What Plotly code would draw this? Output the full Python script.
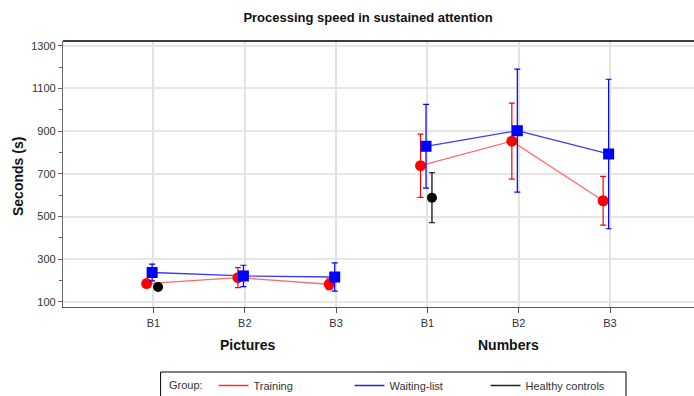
import plotly.graph_objects as go

# ---- data ----
tasks = ["Pictures", "Numbers"]
blocks = ["B1", "B2", "B3"]
tick_labels = ["B1", "B2", "B3", "B1", "B2", "B3"]

training_pictures = [186, 214, 183]
training_pictures_err = [14, 47, 25]
training_numbers = [738, 853, 574]
training_numbers_err = [148, 178, 114]

waiting_pictures = [238, 222, 217]
waiting_pictures_err = [39, 50, 66]
waiting_numbers = [829, 902, 793]
waiting_numbers_err = [196, 288, 350]

healthy_pictures = [170]
healthy_pictures_err = [9]
healthy_numbers = [588]
healthy_numbers_err = [117]

FONT = "Liberation Sans, Arial, sans-serif"

offsets = {"Training": -0.075, "Waiting-list": -0.015, "Healthy controls": 0.05}
group_base = {"Pictures": 0, "Numbers": 3}

fig = go.Figure()

def add_series(name, task, values, errs, color, line_color, symbol, size):
    xs = [group_base[task] + i + offsets[name] for i in range(len(values))]
    fig.add_trace(go.Scatter(
        x=xs, y=values, mode="lines+markers", name=name, showlegend=False,
        line=dict(color=line_color, width=1.3),
        marker=dict(color=color, symbol=symbol, size=size, line=dict(width=0)),
        error_y=dict(type="data", array=errs, visible=True, color=color,
                     thickness=1.2, width=3),
        hoverinfo="x+y",
    ))

for task, tv, te, wv, we, hv, he in [
    ("Pictures", training_pictures, training_pictures_err, waiting_pictures,
     waiting_pictures_err, healthy_pictures, healthy_pictures_err),
    ("Numbers", training_numbers, training_numbers_err, waiting_numbers,
     waiting_numbers_err, healthy_numbers, healthy_numbers_err),
]:
    add_series("Training", task, tv, te, "#ff0000", "#ff6a6a", "circle", 11)
    add_series("Waiting-list", task, wv, we, "#0000ff", "#3a3aff", "square", 11)
    add_series("Healthy controls", task, hv, he, "#000000", "#333333", "circle", 10)

# legend-only traces (line symbols)
for name, col in [("Training", "#ff3030"), ("Waiting-list", "#2020ff"),
                  ("Healthy controls", "#222222")]:
    fig.add_trace(go.Scatter(x=[None], y=[None], mode="lines", name=name,
                             line=dict(color=col, width=1.3), showlegend=True))

PLOT_W, PLOT_B, PLOT_H, PLOT_L = 631, 307, 266, 63

fig.update_layout(
    width=694, height=396, autosize=False,
    margin=dict(l=63, r=0, t=41, b=89, autoexpand=False),
    paper_bgcolor="white", plot_bgcolor="white",
    font=dict(family=FONT, size=11, color="#333333"),
    title=dict(text="<b>Processing speed in sustained attention</b>",
               x=368 / 694, xanchor="center", xref="container",
               y=1 - 17 / 396, yanchor="middle", yref="container",
               font=dict(family=FONT, size=13, color="#111111")),
    xaxis=dict(
        range=[-0.991, 5.92], tickmode="array",
        tickvals=list(range(6)), ticktext=tick_labels,
        showline=True, linecolor="#555555", linewidth=1.2,
        ticks="outside", ticklen=5, tickcolor="#555555",
        showgrid=True, gridcolor="#e2e2e2", gridwidth=1.5,
        zeroline=False, ticklabelstandoff=1,
        tickfont=dict(family=FONT, size=11, color="#333333"),
    ),
    yaxis=dict(
        range=[76.5, 1322], tickmode="array",
        tickvals=[100, 300, 500, 700, 900, 1100, 1300],
        showline=True, linecolor="#666666", linewidth=1.2,
        ticks="outside", ticklen=4, tickcolor="#666666",
        minor=dict(tickmode="array", tickvals=[200, 400, 600, 800, 1000, 1200],
                   ticks="outside", ticklen=3, tickcolor="#666666", showgrid=False),
        showgrid=True, gridcolor="#e6e6e6", gridwidth=2,
        zeroline=False,
        tickfont=dict(family=FONT, size=11, color="#333333"),
    ),
    legend=dict(
        orientation="h", x=(213.5 - PLOT_L) / PLOT_W, xanchor="left",
        y=-(371 - PLOT_B) / PLOT_H, yanchor="top",
        borderwidth=0, bgcolor="rgba(0,0,0,0)",
        font=dict(family=FONT, size=11, color="#333333"),
        itemwidth=30, entrywidth=91, entrywidthmode="pixels",
        traceorder="normal",
    ),
    showlegend=True,
)

# top border line
fig.add_shape(type="line", xref="paper", yref="paper", x0=0, x1=1, y0=1, y1=1,
              line=dict(color="#000000", width=1.5))

# legend box
fig.add_shape(type="rect", xref="paper", yref="paper",
              x0=(160.6 - PLOT_L) / PLOT_W, x1=(626 - PLOT_L) / PLOT_W,
              y0=-(372 - PLOT_B) / PLOT_H, y1=-(405 - PLOT_B) / PLOT_H,
              line=dict(color="#000000", width=1), fillcolor="rgba(0,0,0,0)")
fig.add_annotation(text="Group:", xref="paper", yref="paper",
                   x=(166.5 - PLOT_L) / PLOT_W, y=-(385 - PLOT_B) / PLOT_H,
                   xanchor="left", yanchor="middle", showarrow=False,
                   font=dict(family=FONT, size=11, color="#333333"))

# axis titles
fig.add_annotation(text="<b>Pictures</b>", xref="x", yref="paper",
                   x=(248 - 153.5) / 91.3, y=-(345 - PLOT_B) / PLOT_H,
                   showarrow=False, yanchor="middle",
                   font=dict(family=FONT, size=14, color="#111111"))
fig.add_annotation(text="<b>Numbers</b>", xref="x", yref="paper",
                   x=(508 - 153.5) / 91.3, y=-(345 - PLOT_B) / PLOT_H,
                   showarrow=False, yanchor="middle",
                   font=dict(family=FONT, size=14, color="#111111"))
fig.add_annotation(text="<b>Seconds (s)</b>", xref="paper", yref="paper",
                   x=(18 - PLOT_L) / PLOT_W, y=(PLOT_B - 177) / PLOT_H, textangle=-90,
                   showarrow=False, xanchor="center", yanchor="middle",
                   font=dict(family=FONT, size=14, color="#111111"))

fig.write_html("out.html")
